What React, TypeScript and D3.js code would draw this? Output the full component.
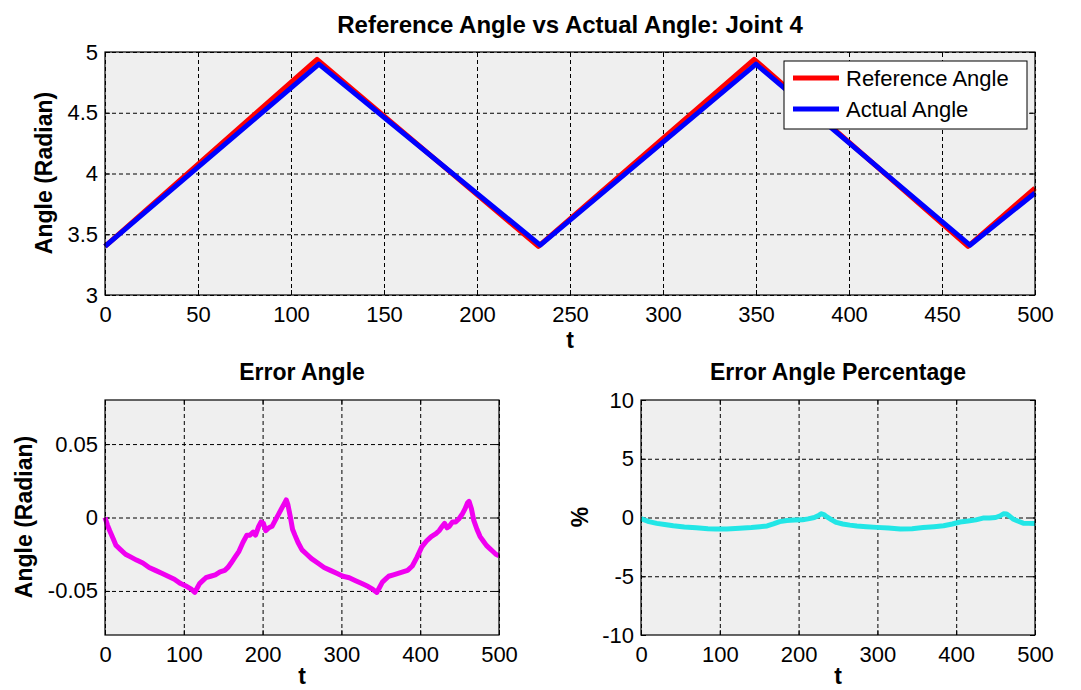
import React, { useEffect, useRef } from 'react';
import * as d3 from 'd3';

// Top panel: reference vs actual joint angle (triangle wave, key points)
const refT = [0, 114, 233, 349, 464, 500];
const refAngle = [3.4, 4.94, 3.4, 4.94, 3.4, 3.88];
const actT = [0, 115, 234, 350, 465, 500];
const actAngle = [3.4, 4.9, 3.41, 4.9, 3.41, 3.84];

// Bottom-left: error angle (radian)
const errT = [
  0, 3, 6, 10, 14, 20, 26, 33, 40, 48, 56, 64, 72, 80, 88, 96, 104, 110, 114, 117, 120, 124,
  128, 134, 140, 146, 152, 156, 160, 165, 170, 175, 180, 184, 188, 191, 195, 198, 201, 204,
  208, 212, 216, 220, 224, 228, 230, 232, 235, 238, 241, 245, 250, 256, 262, 270, 278, 286,
  294, 302, 310, 318, 326, 334, 340, 345, 348, 352, 356, 360, 366, 372, 378, 384, 390, 396,
  402, 408, 414, 420, 424, 428, 431, 434, 437, 441, 445, 449, 453, 457, 460, 462, 465, 468,
  472, 476, 480, 484, 488, 492, 496, 500,
];
const errAngle = [
  0, -0.005, -0.009, -0.014, -0.019, -0.022, -0.025, -0.027, -0.029, -0.031, -0.034, -0.036,
  -0.038, -0.04, -0.042, -0.045, -0.047, -0.049, -0.051, -0.048, -0.045, -0.043, -0.041, -0.04,
  -0.039, -0.037, -0.036, -0.034, -0.031, -0.027, -0.023, -0.017, -0.012, -0.012, -0.01, -0.012,
  -0.006, -0.003, -0.004, -0.009, -0.007, -0.006, -0.002, 0.002, 0.006, 0.01, 0.012, 0.009,
  0.001, -0.008, -0.012, -0.017, -0.022, -0.025, -0.028, -0.031, -0.034, -0.036, -0.038, -0.04,
  -0.041, -0.043, -0.045, -0.047, -0.049, -0.051, -0.048, -0.044, -0.042, -0.04, -0.039, -0.038,
  -0.037, -0.036, -0.033, -0.027, -0.02, -0.016, -0.013, -0.011, -0.009, -0.006, -0.004, -0.007,
  -0.006, -0.003, -0.003, -0.001, 0.002, 0.006, 0.01, 0.011, 0.006, -0.002, -0.008, -0.013,
  -0.016, -0.019, -0.021, -0.023, -0.025, -0.026,
];

// Bottom-right: error angle percentage
const pctT = [
  0, 10, 20, 30, 41, 55, 70, 85, 95, 109, 125, 140, 151, 160, 168, 176, 185, 195, 205, 212,
  220, 226, 229, 232, 236, 242, 248, 256, 265, 274, 286, 299, 314, 329, 344, 358, 372, 384,
  395, 405, 415, 425, 434, 442, 450, 456, 460, 464, 468, 472, 478, 485, 492, 500,
];
const pctError = [
  -0.1, -0.35, -0.5, -0.6, -0.7, -0.8, -0.88, -0.95, -0.98, -0.98, -0.92, -0.85, -0.78, -0.72,
  -0.55, -0.35, -0.25, -0.22, -0.2, -0.12, 0.0, 0.2, 0.32, 0.25, 0.05, -0.2, -0.42, -0.55, -0.65,
  -0.72, -0.78, -0.84, -0.9, -0.98, -0.95, -0.86, -0.78, -0.7, -0.55, -0.38, -0.3, -0.2, -0.05,
  -0.05, 0.0, 0.15, 0.32, 0.3, 0.1, -0.12, -0.3, -0.48, -0.5, -0.52,
];

const topXTicks = [0, 50, 100, 150, 200, 250, 300, 350, 400, 450, 500];
const topYTicks = [3, 3.5, 4, 4.5, 5];
const botXTicks = [0, 100, 200, 300, 400, 500];
const errYTicks = [-0.05, 0, 0.05];
const pctYTicks = [-10, -5, 0, 5, 10];

const FONT = 'Arial, "Liberation Sans", sans-serif';

interface PanelOpts {
  left: number;
  top: number;
  width: number;
  height: number;
  xDomain: [number, number];
  yDomain: [number, number];
  xTicks: number[];
  yTicks: number[];
  yGrid: number[];
}

function drawPanel(svg: d3.Selection<SVGSVGElement, unknown, null, undefined>, o: PanelOpts) {
  const x = d3.scaleLinear().domain(o.xDomain).range([o.left, o.left + o.width]);
  const y = d3.scaleLinear().domain(o.yDomain).range([o.top + o.height, o.top]);
  const bottom = o.top + o.height;
  const right = o.left + o.width;

  svg.append('rect')
    .attr('x', o.left).attr('y', o.top)
    .attr('width', o.width).attr('height', o.height)
    .attr('fill', '#efefef');

  // dashed grid
  const gx = svg.append('g')
    .attr('transform', `translate(0,${bottom})`)
    .call(d3.axisBottom(x).tickValues(o.xTicks).tickSize(-o.height).tickFormat(() => ''));
  gx.select('.domain').remove();
  gx.selectAll('line').attr('stroke', '#000').attr('stroke-dasharray', '4,3');

  const gy = svg.append('g')
    .attr('transform', `translate(${o.left},0)`)
    .call(d3.axisLeft(y).tickValues(o.yGrid).tickSize(-o.width).tickFormat(() => ''));
  gy.select('.domain').remove();
  gy.selectAll('line').attr('stroke', '#000').attr('stroke-dasharray', '4,3');

  // tick labels + inward ticks
  const ax = svg.append('g')
    .attr('transform', `translate(0,${bottom})`)
    .call(d3.axisBottom(x).tickValues(o.xTicks).tickSize(-5).tickPadding(11).tickFormat((d) => String(d)));
  ax.select('.domain').remove();
  ax.selectAll('text').attr('font-family', FONT).attr('font-size', 22).attr('fill', '#000');

  const ay = svg.append('g')
    .attr('transform', `translate(${o.left},0)`)
    .call(d3.axisLeft(y).tickValues(o.yTicks).tickSize(-5).tickPadding(7).tickFormat((d) => String(d)));
  ay.select('.domain').remove();
  ay.selectAll('text').attr('font-family', FONT).attr('font-size', 22).attr('fill', '#000');

  svg.append('g').attr('transform', `translate(0,${o.top})`)
    .call(d3.axisTop(x).tickValues(o.xTicks).tickSize(-5).tickFormat(() => ''))
    .select('.domain').remove();
  svg.append('g').attr('transform', `translate(${right},0)`)
    .call(d3.axisRight(y).tickValues(o.yTicks).tickSize(-5).tickFormat(() => ''))
    .select('.domain').remove();

  return { x, y };
}

function addBox(svg: d3.Selection<SVGSVGElement, unknown, null, undefined>, o: PanelOpts) {
  svg.append('rect')
    .attr('x', o.left).attr('y', o.top)
    .attr('width', o.width).attr('height', o.height)
    .attr('fill', 'none').attr('stroke', '#000').attr('stroke-width', 1.2);
}

function addLine(
  svg: d3.Selection<SVGSVGElement, unknown, null, undefined>,
  x: d3.ScaleLinear<number, number>,
  y: d3.ScaleLinear<number, number>,
  ts: number[],
  vs: number[],
  color: string,
) {
  const line = d3.line<number>()
    .x((_, i) => x(ts[i]))
    .y((d) => y(d));
  svg.append('path')
    .datum(vs)
    .attr('fill', 'none')
    .attr('stroke', color)
    .attr('stroke-width', 5)
    .attr('stroke-linejoin', 'round')
    .attr('d', line);
}

function addText(
  svg: d3.Selection<SVGSVGElement, unknown, null, undefined>,
  txt: string,
  xPos: number,
  yPos: number,
  size: number,
  bold: boolean,
  rotate = false,
) {
  svg.append('text')
    .attr('transform', rotate ? `translate(${xPos},${yPos}) rotate(-90)` : `translate(${xPos},${yPos})`)
    .attr('text-anchor', 'middle')
    .attr('font-family', FONT)
    .attr('font-size', size)
    .attr('font-weight', bold ? 'bold' : 'normal')
    .attr('fill', '#000')
    .text(txt);
}

const App: React.FC = () => {
  const svgRef = useRef<SVGSVGElement>(null);

  useEffect(() => {
    if (!svgRef.current) return;
    const svg = d3.select(svgRef.current);
    svg.selectAll('*').remove();

    svg.append('rect').attr('width', 1081).attr('height', 690).attr('fill', '#fff');

    // top panel
    const topOpts: PanelOpts = {
      left: 105, top: 52, width: 930, height: 243,
      xDomain: [0, 500], yDomain: [3, 5],
      xTicks: topXTicks, yTicks: topYTicks, yGrid: topYTicks,
    };
    const t = drawPanel(svg, topOpts);
    addLine(svg, t.x, t.y, refT, refAngle, '#ff0000');
    addLine(svg, t.x, t.y, actT, actAngle, '#0000ff');
    addBox(svg, topOpts);
    addText(svg, 'Reference Angle vs Actual Angle: Joint 4', 570, 33, 24, true);
    addText(svg, 't', 570, 348, 23, true);
    addText(svg, 'Angle (Radian)', 52, 173, 23, true, true);

    // legend
    const lg = svg.append('g');
    lg.append('rect').attr('x', 784).attr('y', 61).attr('width', 243).attr('height', 68)
      .attr('fill', '#fff').attr('stroke', '#000').attr('stroke-width', 1);
    const legendItems = [
      { label: 'Reference Angle', color: '#ff0000' },
      { label: 'Actual Angle', color: '#0000ff' },
    ];
    legendItems.forEach((it, i) => {
      const yy = 78 + i * 31;
      lg.append('line').attr('x1', 793).attr('x2', 839).attr('y1', yy).attr('y2', yy)
        .attr('stroke', it.color).attr('stroke-width', 5);
      lg.append('text').attr('x', 846).attr('y', yy + 8)
        .attr('font-family', FONT).attr('font-size', 22).attr('fill', '#000')
        .text(it.label);
    });

    // bottom-left panel
    const errOpts: PanelOpts = {
      left: 105, top: 400, width: 394, height: 235,
      xDomain: [0, 500], yDomain: [-0.08, 0.08],
      xTicks: botXTicks, yTicks: errYTicks, yGrid: errYTicks,
    };
    const e = drawPanel(svg, errOpts);
    addLine(svg, e.x, e.y, errT, errAngle, '#f000f0');
    addBox(svg, errOpts);
    addText(svg, 'Error Angle', 302, 380, 23, true);
    addText(svg, 't', 302, 684, 23, true);
    addText(svg, 'Angle (Radian)', 32, 517, 23, true, true);

    // bottom-right panel
    const pctOpts: PanelOpts = {
      left: 641, top: 400, width: 394, height: 235,
      xDomain: [0, 500], yDomain: [-10, 10],
      xTicks: botXTicks, yTicks: pctYTicks, yGrid: [-5, 0, 5],
    };
    const p = drawPanel(svg, pctOpts);
    addLine(svg, p.x, p.y, pctT, pctError, '#22e6e6');
    addBox(svg, pctOpts);
    addText(svg, 'Error Angle Percentage', 838, 380, 23, true);
    addText(svg, 't', 838, 684, 23, true);
    addText(svg, '%', 588, 517, 23, true, true);
  }, []);

  return (
    <svg
      ref={svgRef}
      width={1081}
      height={690}
      style={{ position: 'absolute', left: 0, top: 0, display: 'block' }}
    />
  );
};

export default App;
